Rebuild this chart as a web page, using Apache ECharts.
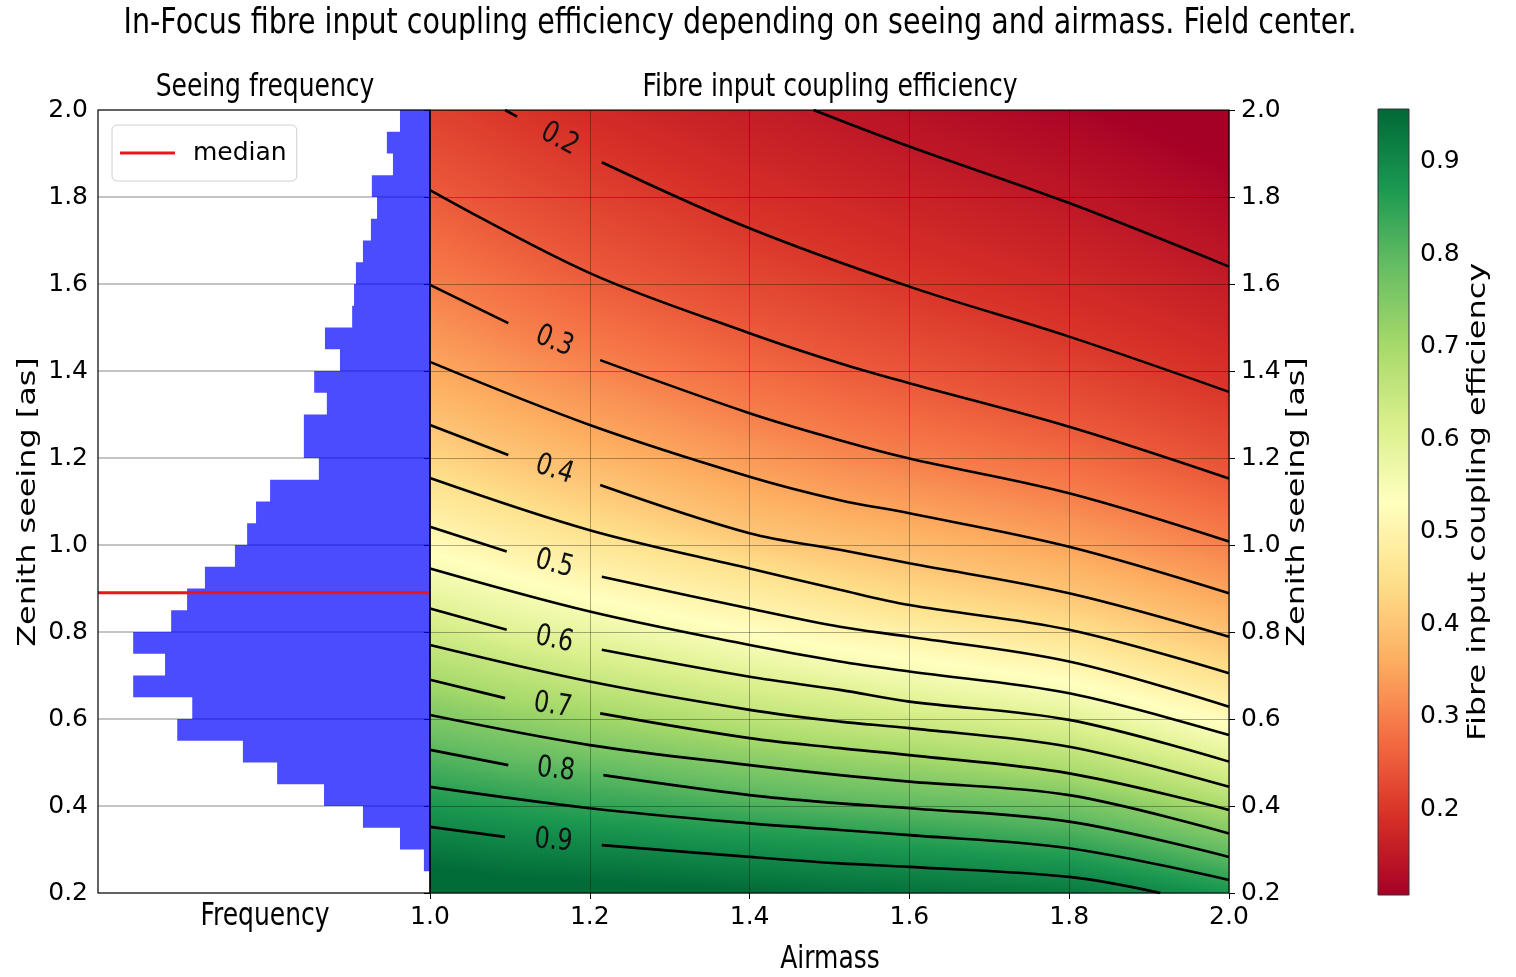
<!DOCTYPE html>
<html>
<head>
<meta charset="utf-8">
<title>Fibre input coupling efficiency</title>
<script src="https://cdn.jsdelivr.net/npm/echarts@6/dist/echarts.min.js"></script>
<style>
  html, body { margin: 0; padding: 0; background: #ffffff; }
  #chart { width: 1516px; height: 977px; }
</style>
</head>
<body>
<div id="chart"></div>
<script>
// ---------------------------------------------------------------------------
// Seeing statistics: histogram bins (lower edge, arcsec) and share of nights [%]
const seeingBinStart = [0.20, 0.25, 0.30, 0.35, 0.40, 0.45, 0.50, 0.55, 0.60, 0.65,
                        0.70, 0.75, 0.80, 0.85, 0.90, 0.95, 1.00, 1.05, 1.10, 1.15,
                        1.20, 1.25, 1.30, 1.35, 1.40, 1.45, 1.50, 1.55, 1.60, 1.65,
                        1.70, 1.75, 1.80, 1.85, 1.90, 1.95];
const seeingBinWidth = 0.05;
const seeingFreq = [0.00, 0.13, 0.64, 1.43, 2.26, 3.26, 3.99, 5.39, 5.07, 6.33,
                    5.65, 6.33, 5.52, 5.18, 4.80, 4.16, 3.90, 3.71, 3.41, 2.37,
                    2.69, 2.69, 2.20, 2.47, 1.92, 2.24, 1.66, 1.62, 1.58, 1.43,
                    1.26, 1.13, 1.24, 0.79, 0.92, 0.64];
const freqAxisMax = 7.08;
const medianSeeing = 0.89;

// ---------------------------------------------------------------------------
// Coupling efficiency contours: [airmass, zenith seeing] along each level
const contourLevels = [0.15, 0.20, 0.25, 0.30, 0.35, 0.40, 0.45, 0.50,
                       0.55, 0.60, 0.65, 0.70, 0.75, 0.80, 0.85, 0.90];
const c15 = [[1.48, 2.000], [1.600, 1.916], [1.800, 1.786], [2.0, 1.640]];
const c20 = [[1.094, 2.000], [1.109, 1.985], [1.215, 1.880], [1.400, 1.728], [1.600, 1.594], [1.800, 1.479], [2.0, 1.352]];
const c25 = [[1.0, 1.816], [1.200, 1.625], [1.400, 1.487], [1.513, 1.418], [1.600, 1.372], [1.800, 1.272], [2.0, 1.153]];
const c30 = [[1.0, 1.598], [1.098, 1.510], [1.213, 1.425], [1.400, 1.303], [1.513, 1.241], [1.600, 1.199], [1.800, 1.119], [2.0, 1.008]];
const c35 = [[1.0, 1.421], [1.200, 1.276], [1.400, 1.157], [1.513, 1.103], [1.600, 1.073], [1.800, 0.996], [2.0, 0.889]];
const c40 = [[1.0, 1.276], [1.098, 1.207], [1.213, 1.138], [1.400, 1.027], [1.513, 0.989], [1.600, 0.958], [1.800, 0.889], [2.0, 0.789]];
const c45 = [[1.0, 1.154], [1.200, 1.034], [1.400, 0.946], [1.513, 0.897], [1.600, 0.862], [1.800, 0.805], [2.0, 0.705]];
const c50 = [[1.0, 1.042], [1.096, 0.985], [1.215, 0.927], [1.400, 0.854], [1.513, 0.812], [1.600, 0.789], [1.800, 0.732], [2.0, 0.628]];
const c55 = [[1.0, 0.946], [1.200, 0.847], [1.400, 0.770], [1.513, 0.732], [1.600, 0.709], [1.800, 0.659], [2.0, 0.563]];
const c60 = [[1.0, 0.854], [1.096, 0.805], [1.215, 0.759], [1.400, 0.697], [1.513, 0.667], [1.600, 0.640], [1.800, 0.598], [2.0, 0.502]];
const c65 = [[1.0, 0.770], [1.200, 0.686], [1.400, 0.621], [1.513, 0.594], [1.600, 0.579], [1.800, 0.536], [2.0, 0.444]];
const c70 = [[1.0, 0.690], [1.094, 0.648], [1.213, 0.613], [1.400, 0.556], [1.513, 0.533], [1.600, 0.517], [1.800, 0.475], [2.0, 0.391]];
const c75 = [[1.0, 0.609], [1.200, 0.540], [1.400, 0.494], [1.513, 0.471], [1.600, 0.456], [1.800, 0.425], [2.0, 0.337]];
const c80 = [[1.0, 0.529], [1.098, 0.494], [1.217, 0.471], [1.400, 0.425], [1.513, 0.406], [1.600, 0.395], [1.800, 0.364], [2.0, 0.283]];
const c85 = [[1.0, 0.444], [1.200, 0.395], [1.400, 0.360], [1.513, 0.345], [1.600, 0.333], [1.800, 0.303], [2.0, 0.230]];
const c90 = [[1.0, 0.352], [1.094, 0.329], [1.215, 0.310], [1.400, 0.283], [1.513, 0.268], [1.600, 0.260], [1.800, 0.237], [1.914, 0.200]];
const contourPaths = [c15, c20, c25, c30, c35, c40, c45, c50, c55, c60, c65, c70, c75, c80, c85, c90];
// levels carrying an inline label; the label sits between points 1 and 2 of the path
const labelledLevels = [0.2, 0.3, 0.4, 0.5, 0.6, 0.7, 0.8, 0.9];

// colour scale limits of the efficiency map
const effRange = [0.107, 0.957];

// axis ticks
const seeingTicks = [0.2, 0.4, 0.6, 0.8, 1.0, 1.2, 1.4, 1.6, 1.8, 2.0];
const airmassTicks = [1.0, 1.2, 1.4, 1.6, 1.8, 2.0];
const colourbarTicks = [0.2, 0.3, 0.4, 0.5, 0.6, 0.7, 0.8, 0.9];

// ---------------------------------------------------------------------------
const FONT = 'DejaVu Sans';
const STRETCH = 1.25;   // glyph stretch along the page's vertical direction

// RdYlGn colour map
const RDYLGN = ['#a50026', '#d73027', '#f46d43', '#fdae61', '#fee08b', '#ffffbf',
                '#d9ef8b', '#a6d96a', '#66bd63', '#1a9850', '#006837'];
const RDYLGN_RGB = RDYLGN.map(h => [parseInt(h.slice(1, 3), 16), parseInt(h.slice(3, 5), 16), parseInt(h.slice(5, 7), 16)]);
function effColor(v) {
  let t = (v - effRange[0]) / (effRange[1] - effRange[0]);
  t = Math.max(0, Math.min(1, t));
  const s = t * (RDYLGN_RGB.length - 1);
  const i = Math.min(Math.floor(s), RDYLGN_RGB.length - 2);
  const f = s - i;
  const a = RDYLGN_RGB[i], b = RDYLGN_RGB[i + 1];
  return 'rgb(' + Math.round(a[0] + (b[0] - a[0]) * f) + ',' +
                  Math.round(a[1] + (b[1] - a[1]) * f) + ',' +
                  Math.round(a[2] + (b[2] - a[2]) * f) + ')';
}

// y pixel of a pixel-space polyline at pixel x (end segments carried on past the ends)
function yAtX(pp, x) {
  let i = 0;
  if (x >= pp[pp.length - 1][0]) i = pp.length - 2;
  else if (x > pp[0][0]) { while (i < pp.length - 2 && pp[i + 1][0] < x) i++; }
  const a = pp[i], b = pp[i + 1];
  return a[1] + (b[1] - a[1]) * (x - a[0]) / (b[0] - a[0]);
}

// Shaded band between two neighbouring contour levels, drawn as thin vertical strips
function renderBand(params, api) {
  const b = params.dataIndex;
  const cs = params.coordSys;
  const top = cs.y, bottom = cs.y + cs.height, left = cs.x, right = cs.x + cs.width;
  const px = contourPaths.map(path => path.map(p => api.coord(p)));
  const n = contourLevels.length;
  const step = contourLevels[1] - contourLevels[0];
  const clamp = y => Math.max(top, Math.min(bottom, y));
  let upperEdge, upperGrad, lowerEdge, lowerGrad, vU, vL;
  if (b === 0) {
    upperEdge = () => top;
    upperGrad = x => 2 * yAtX(px[0], x) - yAtX(px[1], x);
    vU = contourLevels[0] - step;
  } else {
    upperEdge = upperGrad = x => yAtX(px[b - 1], x);
    vU = contourLevels[b - 1];
  }
  if (b === n) {
    lowerEdge = () => bottom;
    lowerGrad = x => 2 * yAtX(px[n - 1], x) - yAtX(px[n - 2], x);
    vL = contourLevels[n - 1] + step;
  } else {
    // reach a little past the lower contour so the next band overlaps without a seam
    lowerEdge = x => yAtX(px[b], x) + 2;
    lowerGrad = x => yAtX(px[b], x);
    vL = contourLevels[b];
  }
  const stops = [];
  for (let k = 0; k <= 8; k++) {
    const o = k / 8;
    stops.push({ offset: o, color: effColor(vU + (vL - vU) * o) });
  }
  const children = [];
  const dx = 3;
  for (let x0 = left; x0 < right; x0 += dx) {
    const x1 = Math.min(x0 + dx, right);
    const u0 = clamp(upperEdge(x0)), u1 = clamp(upperEdge(x1));
    const l0 = clamp(lowerEdge(x0)), l1 = clamp(lowerEdge(x1));
    if (l0 <= u0 && l1 <= u1) continue;
    const xm = (x0 + x1) / 2;
    const xr = Math.min(x1 + 0.8, right);
    children.push({
      type: 'polygon',
      silent: true,
      shape: { points: [[x0, u0], [xr, u1], [xr, l1], [x0, l0]] },
      style: {
        fill: { type: 'linear', x: xm, y: upperGrad(xm), x2: xm, y2: lowerGrad(xm), global: true, colorStops: stops }
      }
    });
  }
  return { type: 'group', children: children };
}

// Inline contour labels, centred in the gap of each labelled line
function renderContourLabel(params, api) {
  const level = labelledLevels[params.dataIndex];
  const path = contourPaths[contourLevels.findIndex(l => Math.abs(l - level) < 1e-9)];
  const p1 = api.coord(path[1]), p2 = api.coord(path[2]);
  const ang = Math.atan2(p2[1] - p1[1], p2[0] - p1[0]);
  return {
    type: 'text',
    x: (p1[0] + p2[0]) / 2,
    y: (p1[1] + p2[1]) / 2,
    rotation: -ang,
    scaleY: STRETCH,
    style: { text: level.toFixed(1), fontSize: 24, fontFamily: FONT, fill: '#111', align: 'center', verticalAlign: 'middle' }
  };
}

// Seeing histogram as one stepped outline
function renderHistogram(params, api) {
  const last = seeingBinStart[seeingBinStart.length - 1] + seeingBinWidth;
  const pts = [api.coord([0, seeingBinStart[0]])];
  seeingBinStart.forEach((s, i) => {
    pts.push(api.coord([seeingFreq[i], s]));
    pts.push(api.coord([seeingFreq[i], s + seeingBinWidth]));
  });
  pts.push(api.coord([0, last]));
  return { type: 'polygon', shape: { points: pts }, style: { fill: 'rgba(0,0,255,0.7)' } };
}

// Colour bar body
function renderColourbar(params, api) {
  const p0 = api.coord([0, effRange[0]]);
  const p1 = api.coord([1, effRange[1]]);
  const stops = [];
  for (let k = 0; k <= 40; k++) {
    const o = k / 40;
    stops.push({ offset: o, color: effColor(effRange[1] - (effRange[1] - effRange[0]) * o) });
  }
  return {
    type: 'rect',
    shape: { x: p0[0], y: p1[1], width: p1[0] - p0[0], height: p0[1] - p1[1] },
    style: { fill: { type: 'linear', x: 0, y: 0, x2: 0, y2: 1, colorStops: stops }, stroke: '#333', lineWidth: 1 }
  };
}

const fmt1 = v => Number(v).toFixed(1);
const labelStyle = { fontSize: 25, fontFamily: FONT, color: '#000' };

// contour line series, split around the inline labels
const contourSeries = [];
contourPaths.forEach((path, i) => {
  const labelled = labelledLevels.some(l => Math.abs(l - contourLevels[i]) < 1e-9);
  const parts = labelled ? [path.slice(0, 2), path.slice(2)] : [path];
  parts.forEach(part => {
    contourSeries.push({
      type: 'line', xAxisIndex: 1, yAxisIndex: 1, data: part,
      symbol: 'none', silent: true, z: 4,
      smooth: 0.35,
      lineStyle: { color: '#000', width: 2.6 }
    });
  });
});

const bandIds = [];
for (let i = 0; i <= contourLevels.length; i++) bandIds.push([1.5, 1.1, i]);

function vText(text, x, y) {
  return {
    type: 'text', x: x, y: y, rotation: Math.PI / 2, scaleX: STRETCH * 1.02,
    style: { text: text, fontSize: 25, fontFamily: FONT, fill: '#000', align: 'center', verticalAlign: 'middle' }
  };
}
function hText(text, x, y, size) {
  return {
    type: 'text', x: x, y: y, scaleY: STRETCH,
    style: { text: text, fontSize: size || 25, fontFamily: FONT, fill: '#000', align: 'center', verticalAlign: 'middle' }
  };
}

const chart = echarts.init(document.getElementById('chart'), null, { renderer: 'canvas' });
chart.setOption({
  animation: false,
  backgroundColor: '#ffffff',
  grid: [
    { left: 98, top: 110, width: 332, height: 783 },
    { left: 430, top: 110, width: 799, height: 783 },
    { left: 1378, top: 109, width: 31, height: 786 }
  ],
  legend: {
    data: [{ name: 'median', icon: 'rect' }], left: 112, top: 125, orient: 'vertical',
    itemWidth: 55, itemHeight: 3, padding: [13, 10, 13, 8],
    backgroundColor: '#ffffff', borderColor: '#d0d0d0', borderWidth: 1, borderRadius: 5,
    selectedMode: false,
    textStyle: { fontSize: 25, fontFamily: FONT, color: '#000', padding: [0, 0, 0, 13], lineHeight: 30 }
  },
  xAxis: [
    { gridIndex: 0, type: 'value', min: 0, max: freqAxisMax, inverse: true,
      axisLine: { show: false }, axisTick: { show: false }, axisLabel: { show: false }, splitLine: { show: false } },
    { gridIndex: 1, type: 'value', min: airmassTicks[0], max: airmassTicks[airmassTicks.length - 1], interval: 0.2, z: 3,
      axisLine: { show: false },
      axisTick: { show: true, length: 6, lineStyle: { color: '#000', width: 1 } },
      axisLabel: Object.assign({ margin: 12, formatter: fmt1 }, labelStyle),
      splitLine: { show: true, lineStyle: { color: 'rgba(0,0,0,0.32)', width: 1 } } },
    { gridIndex: 2, type: 'value', min: 0, max: 1, show: false }
  ],
  yAxis: [
    { gridIndex: 0, type: 'value', min: seeingTicks[0], max: seeingTicks[seeingTicks.length - 1], interval: 0.2, position: 'left',
      axisLine: { show: false },
      axisTick: { show: true, length: 6, lineStyle: { color: '#000', width: 1 } },
      axisLabel: Object.assign({ margin: 10, formatter: fmt1 }, labelStyle),
      splitLine: { show: true, lineStyle: { color: '#b0b0b0', width: 1.5 } } },
    { gridIndex: 1, type: 'value', min: seeingTicks[0], max: seeingTicks[seeingTicks.length - 1], interval: 0.2, position: 'right', z: 3,
      axisLine: { show: false },
      axisTick: { show: true, length: 6, lineStyle: { color: '#000', width: 1 } },
      axisLabel: Object.assign({ margin: 12, formatter: fmt1 }, labelStyle),
      splitLine: { show: true, lineStyle: { color: 'rgba(0,0,0,0.32)', width: 1 } } },
    { gridIndex: 2, type: 'value', min: effRange[0], max: effRange[1], position: 'right',
      axisLine: { show: false },
      axisTick: { show: true, length: 6, customValues: colourbarTicks, lineStyle: { color: '#000', width: 1 } },
      axisLabel: Object.assign({ margin: 11, customValues: colourbarTicks, formatter: fmt1 }, labelStyle),
      splitLine: { show: false } }
  ],
  series: [
    { type: 'custom', name: 'seeing', xAxisIndex: 0, yAxisIndex: 0, data: [[0, 1]], renderItem: renderHistogram, silent: true, z: 2 },
    { type: 'line', name: 'median', xAxisIndex: 0, yAxisIndex: 0,
      data: [[0, medianSeeing], [freqAxisMax, medianSeeing]],
      symbol: 'none', silent: true, z: 5, color: '#e8161f',
      lineStyle: { color: '#e8161f', width: 3 } },
    { type: 'custom', name: 'efficiency', xAxisIndex: 1, yAxisIndex: 1, data: bandIds, renderItem: renderBand, silent: true, z: 1 },
    ...contourSeries,
    { type: 'custom', name: 'contour labels', xAxisIndex: 1, yAxisIndex: 1,
      data: labelledLevels.map(l => [1.5, 1.1, l]), renderItem: renderContourLabel, silent: true, z: 6 },
    { type: 'custom', name: 'colour bar', xAxisIndex: 2, yAxisIndex: 2, data: [[0, 0.5]], renderItem: renderColourbar, silent: true }
  ],
  graphic: [
    hText('In-Focus fibre input coupling efficiency depending on seeing and airmass. Field center.', 740, 24, 28.5),
    hText('Seeing frequency', 265, 88),
    hText('Fibre input coupling efficiency', 830, 88),
    hText('Frequency', 265, 917),
    hText('Airmass', 830, 960),
    vText('Zenith seeing [as]', 28, 502),
    vText('Zenith seeing [as]', 1297, 502),
    vText('Fibre input coupling efficiency', 1478, 502),
    { type: 'rect', z: 100, silent: true, shape: { x: 98, y: 110, width: 332, height: 783 }, style: { fill: null, stroke: '#000', lineWidth: 1.2 } },
    { type: 'rect', z: 100, silent: true, shape: { x: 430, y: 110, width: 799, height: 783 }, style: { fill: null, stroke: '#000', lineWidth: 1.2 } }
  ]
});
</script>
</body>
</html>
